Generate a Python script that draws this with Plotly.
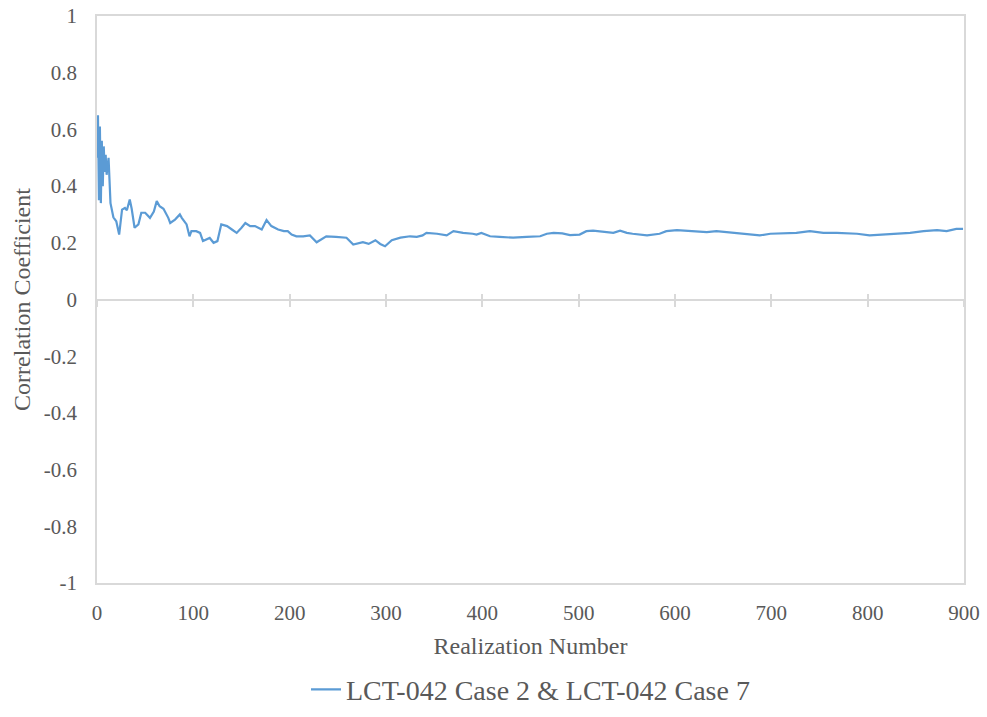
import plotly.graph_objects as go

# Running correlation coefficient between two simulation cases
realization = [
    0, 1, 2, 3, 4, 5, 6, 7, 8, 9,
    10, 12, 14, 17, 20, 23, 26, 29, 31, 34,
    36, 39, 43, 46, 50, 55, 59, 62, 65, 69,
    74, 76, 81, 86, 88, 93, 96, 98, 103, 107,
    110, 114, 117, 121, 125, 129, 135, 140, 145, 150,
    154, 159, 164, 171, 176, 181, 188, 194, 198, 202,
    207, 214, 221, 228, 238, 248, 259, 266, 276, 282,
    289, 294, 299, 306, 315, 325, 332, 338, 342, 353,
    363, 370, 380, 390, 394, 399, 408, 418, 432, 446,
    460, 467, 474, 483, 491, 501, 508, 515, 526, 536,
    543, 550, 556, 571, 584, 591, 602, 616, 633, 643,
    654, 671, 688, 699, 716, 726, 740, 754, 768, 789,
    802, 816, 830, 844, 858, 872, 882, 892, 899,
]
correlation = [
    0.50, 0.65, 0.35, 0.61, 0.34, 0.56, 0.40, 0.54, 0.45, 0.51,
    0.44, 0.50, 0.34, 0.29, 0.276, 0.229, 0.317, 0.323, 0.315, 0.353,
    0.32, 0.253, 0.265, 0.306, 0.306, 0.288, 0.31, 0.347, 0.329, 0.32,
    0.288, 0.27, 0.282, 0.30, 0.288, 0.265, 0.223, 0.241, 0.241, 0.235,
    0.206, 0.212, 0.217, 0.20, 0.206, 0.265, 0.259, 0.247, 0.235, 0.253,
    0.27, 0.259, 0.259, 0.247, 0.28, 0.259, 0.247, 0.241, 0.241, 0.229,
    0.223, 0.223, 0.226, 0.202, 0.223, 0.221, 0.218, 0.194, 0.202, 0.196,
    0.209, 0.196, 0.188, 0.209, 0.218, 0.223, 0.221, 0.226, 0.235, 0.232,
    0.226, 0.241, 0.235, 0.232, 0.229, 0.235, 0.223, 0.221, 0.218, 0.221,
    0.223, 0.232, 0.235, 0.233, 0.227, 0.229, 0.241, 0.243, 0.238, 0.235,
    0.243, 0.235, 0.232, 0.226, 0.232, 0.241, 0.245, 0.241, 0.238, 0.241,
    0.237, 0.232, 0.226, 0.232, 0.233, 0.235, 0.241, 0.235, 0.235, 0.232,
    0.226, 0.229, 0.232, 0.235, 0.241, 0.245, 0.241, 0.249, 0.249,
]

x_ticks = [0, 100, 200, 300, 400, 500, 600, 700, 800, 900]
y_ticks = [-1, -0.8, -0.6, -0.4, -0.2, 0, 0.2, 0.4, 0.6, 0.8, 1]
y_labels = ["-1", "-0.8", "-0.6", "-0.4", "-0.2", "0", "0.2", "0.4", "0.6", "0.8", "1"]

FONT = "Liberation Serif"
TEXT = "#595959"
GRID = "#D9D9D9"
LINE = "#5B9BD5"

fig = go.Figure()
fig.add_trace(go.Scatter(
    x=realization, y=correlation, mode="lines",
    name="LCT-042 Case 2 & LCT-042 Case 7",
    line=dict(color=LINE, width=2.2),
))

# invisible traces that carry the zero-line axes with crossing tick marks
for ax in ("x2", "x3"):
    fig.add_trace(go.Scatter(x=[0, 900], y=[0, 0], xaxis=ax, yaxis="y", mode="lines",
                             line=dict(width=0), showlegend=False, hoverinfo="skip"))

fig.update_layout(
    width=987, height=717,
    margin=dict(l=97, r=23, t=16, b=134, autoexpand=False),
    paper_bgcolor="white", plot_bgcolor="white",
    font=dict(family=FONT, color=TEXT, size=20),
    showlegend=True,
    legend=dict(orientation="h", x=0.5, xanchor="center", xref="paper",
                y=0.038, yanchor="middle", yref="container",
                font=dict(size=28, color=TEXT), itemwidth=30),
    xaxis=dict(
        range=[0, 900], tickvals=x_ticks, ticks="", showgrid=False, zeroline=False,
        showline=True, linecolor=GRID, linewidth=1.5, mirror=True, automargin=False,
        tickfont=dict(size=21, color=TEXT), ticklabelstandoff=10,
        title=dict(text="Realization Number", font=dict(size=24, color=TEXT), standoff=13),
    ),
    xaxis2=dict(
        range=[0, 900], overlaying="x", anchor="free", position=0.5,
        tickvals=x_ticks, ticks="outside", ticklen=7, tickcolor=GRID, tickwidth=1.5,
        showticklabels=False, showline=True, linecolor=GRID, linewidth=1.5,
        showgrid=False, zeroline=False,
    ),
    xaxis3=dict(
        range=[0, 900], overlaying="x", anchor="free", position=0.5,
        tickvals=x_ticks, ticks="inside", ticklen=6, tickcolor=GRID, tickwidth=1.5,
        showticklabels=False, showline=False, showgrid=False, zeroline=False,
    ),
    yaxis=dict(
        range=[-1, 1], tickvals=y_ticks, ticktext=y_labels, ticks="",
        showgrid=False, zeroline=False, showline=True, linecolor=GRID,
        linewidth=1.5, mirror=True, automargin=False,
        tickfont=dict(size=21, color=TEXT), ticklabelstandoff=14,
        title=dict(text="Correlation Coefficient", font=dict(size=24, color=TEXT), standoff=6),
    ),
)

fig.write_html("out.html")
